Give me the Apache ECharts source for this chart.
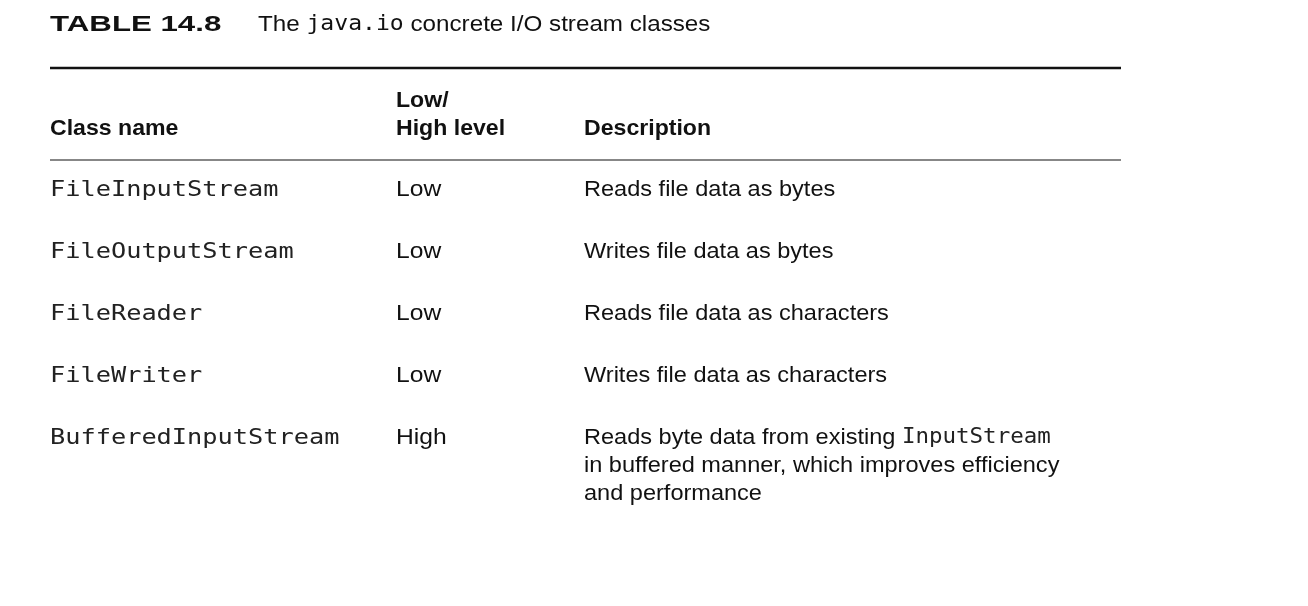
<!DOCTYPE html>
<html>
<head>
<meta charset="utf-8">
<script src="https://cdn.jsdelivr.net/npm/echarts@6/dist/echarts.min.js"></script>
<style>
  html, body { margin: 0; padding: 0; background: #fff; }
  #main { width: 1308px; height: 606px; }
</style>
</head>
<body>
<div id="main"></div>
<script>
// table content
var tableLabel = 'TABLE 14.8';
var tableTitle = 'The {m|java.io} concrete I/O stream classes';
var headers = ['Class name', 'Low/\nHigh level', 'Description'];
var classNames = ['FileInputStream', 'FileOutputStream', 'FileReader', 'FileWriter', 'BufferedInputStream'];
var levels = ['Low', 'Low', 'Low', 'Low', 'High'];
var descriptions = [
  'Reads file data as bytes',
  'Writes file data as bytes',
  'Reads file data as characters',
  'Writes file data as characters',
  'Reads byte data from existing {m|InputStream}\nin buffered manner, which improves efficiency\nand performance'
];

var sans = '"Liberation Sans", Arial, sans-serif';
var mono = '"DejaVu Sans Mono", monospace';
var colX = [50, 396, 584];
var rowY0 = 190, rowStep = 62;
var sx = 1.12;
var monoRich = { m: { fontFamily: mono, fontSize: 21, fill: '#222', lineHeight: 28 } };

function txt(x, y, style, scaleX) {
  return { type: 'text', x: x, y: y, scaleX: scaleX || sx, style: style };
}

var els = [];
els.push(txt(50, 25, { text: tableLabel, font: 'bold 22px ' + sans, fill: '#111', verticalAlign: 'middle' }, 1.42));
els.push(txt(258, 25, { text: tableTitle, font: '22px ' + sans, fill: '#111', verticalAlign: 'middle',
  rich: { m: { fontFamily: mono, fontSize: 21, fill: '#111' } } }, 1.1));
els.push({ type: 'line', shape: { x1: 50, y1: 68, x2: 1121, y2: 68 }, style: { stroke: '#111', lineWidth: 2.5 } });
els.push({ type: 'line', shape: { x1: 50, y1: 160, x2: 1121, y2: 160 }, style: { stroke: '#111', lineWidth: 1.2 } });

headers.forEach(function (h, i) {
  els.push(txt(colX[i], 143, { text: h, font: 'bold 22px ' + sans, fill: '#111', lineHeight: 28, verticalAlign: 'bottom' }, 1.05));
});

classNames.forEach(function (c, r) {
  var y = rowY0 + r * rowStep;
  els.push(txt(colX[0], y, { text: c, font: '22px ' + mono, fill: '#222', verticalAlign: 'middle' }, 1.15));
  els.push(txt(colX[1], y, { text: levels[r], font: '22px ' + sans, fill: '#111', verticalAlign: 'middle' }));
  els.push(txt(colX[2], y - 14, { text: descriptions[r], font: '22px ' + sans, fill: '#111', lineHeight: 28,
    verticalAlign: 'top', rich: monoRich }, 1.07));
});

var chart = echarts.init(document.getElementById('main'));
chart.setOption({ backgroundColor: '#fff', graphic: { elements: els } });
</script>
</body>
</html>
